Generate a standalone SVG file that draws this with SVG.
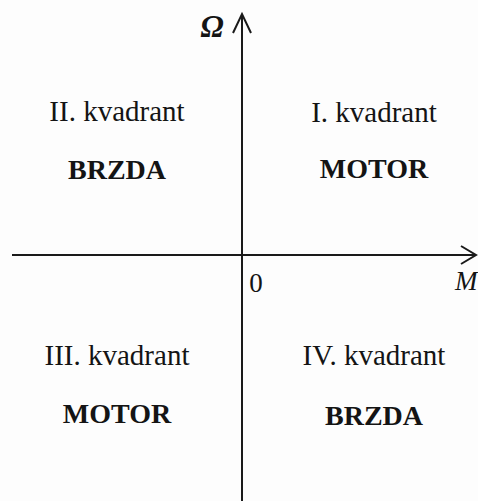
<svg xmlns="http://www.w3.org/2000/svg" width="478" height="501" viewBox="0 0 478 501">
<style>
text{font-family:"Liberation Serif","Times New Roman",serif;fill:#141414;text-anchor:middle}
.q{font-size:29px}
.b{font-size:28px;font-weight:bold}
.ax{font-size:29px;font-style:italic}
.axis{stroke:#1a1a1a;stroke-width:2;fill:none}
</style>
<rect width="478" height="501" fill="#fdfdfd"/>
<g id="connectors">
<line class="axis" x1="242" y1="501" x2="242" y2="14"/>
<polyline class="axis" points="233,33 242,14 251,33"/>
<line class="axis" x1="12" y1="255" x2="475" y2="255"/>
<polyline class="axis" points="461,246 476,255 461,264"/>
</g>
<g id="axis-omega"><text class="ax" x="212" y="37" style="font-weight:bold;font-size:31px">Ω</text></g>
<g id="axis-M"><text class="ax" x="455" y="290" style="text-anchor:start;font-size:27px">M</text></g>
<g id="origin"><text class="q" x="256" y="292" style="font-size:27px">0</text></g>
<g id="q2"><text class="q" x="117" y="121">II. kvadrant</text><text class="b" x="117" y="179">BRZDA</text></g>
<g id="q1"><text class="q" x="374" y="122">I. kvadrant</text><text class="b" x="374" y="178">MOTOR</text></g>
<g id="q3"><text class="q" x="117" y="365">III. kvadrant</text><text class="b" x="117" y="423">MOTOR</text></g>
<g id="q4"><text class="q" x="374" y="365">IV. kvadrant</text><text class="b" x="374" y="425">BRZDA</text></g>
</svg>
